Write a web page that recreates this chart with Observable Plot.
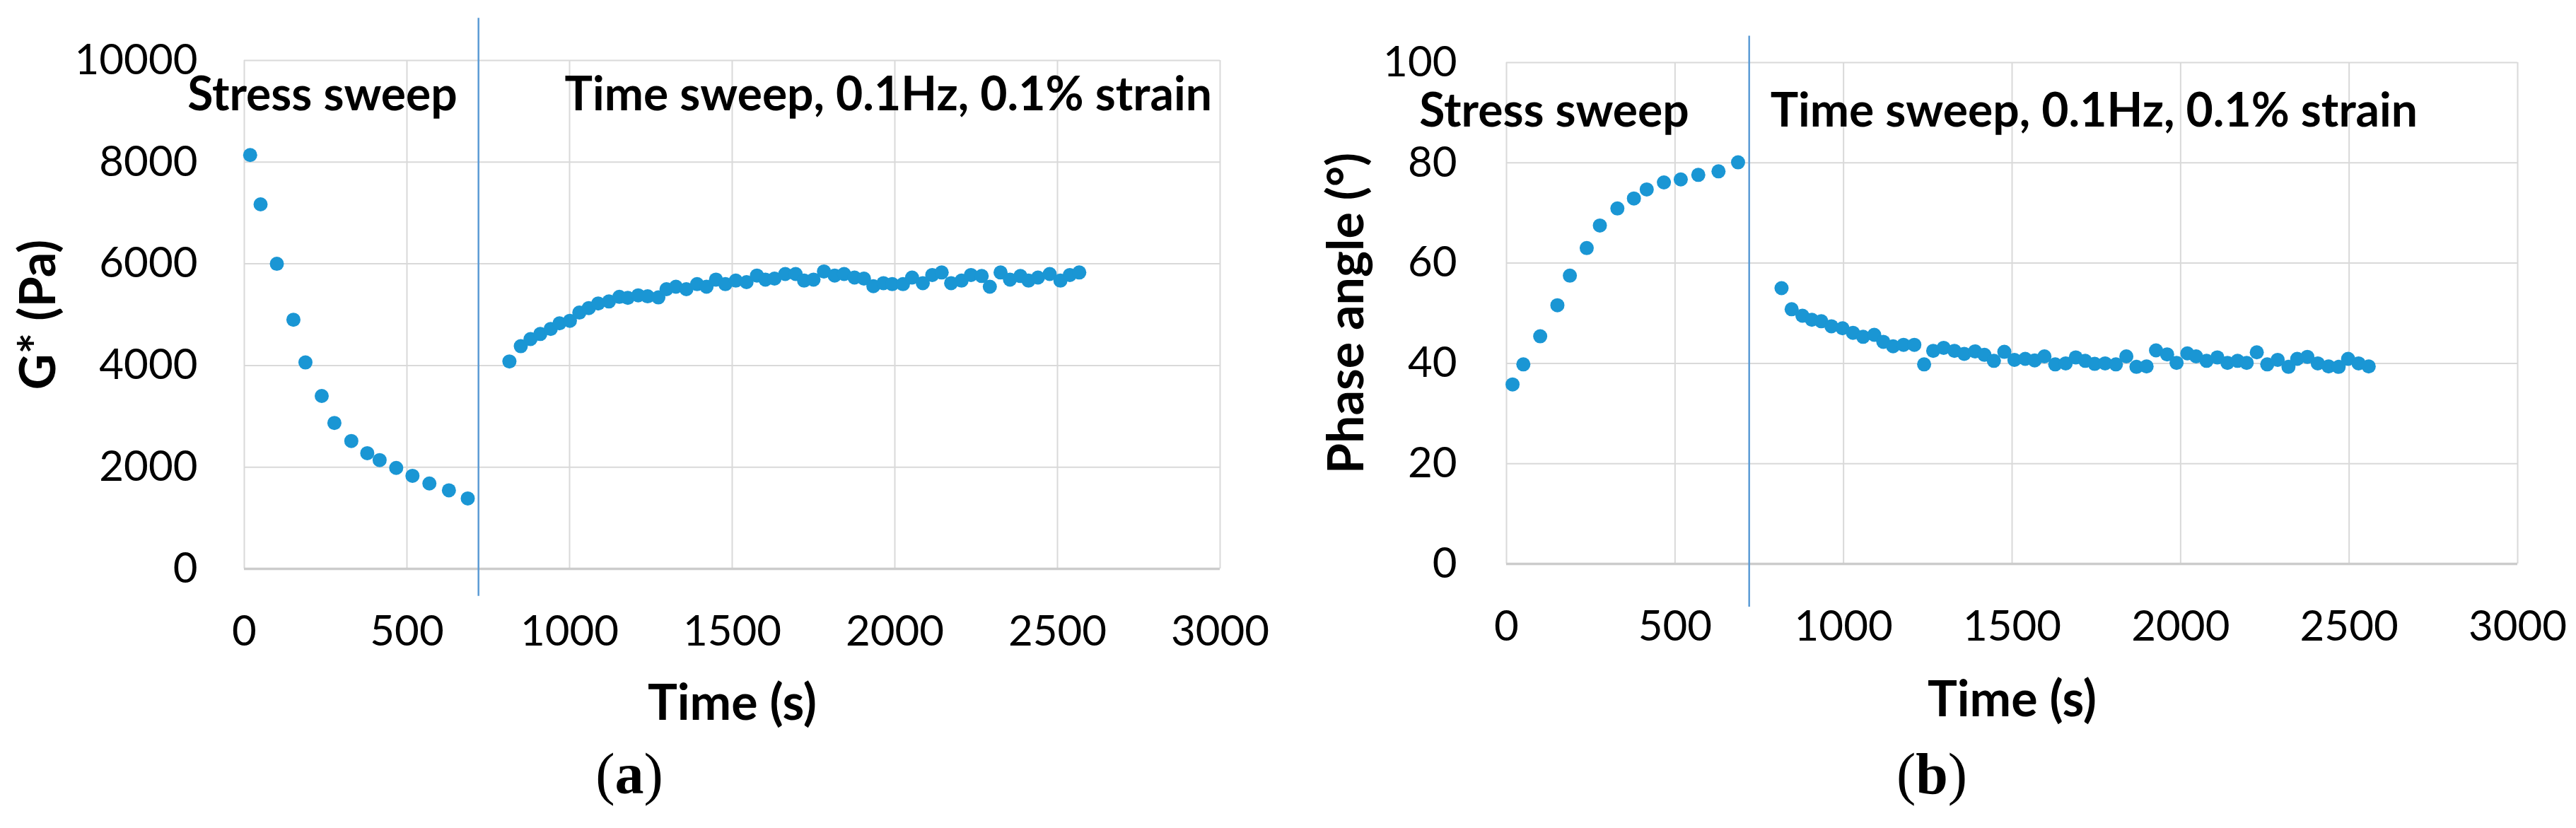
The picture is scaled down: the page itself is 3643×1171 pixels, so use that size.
<!DOCTYPE html>
<html><head><meta charset="utf-8">
<script src="https://cdn.jsdelivr.net/npm/d3@7"></script>
<script src="https://cdn.jsdelivr.net/npm/@observablehq/plot@0.6"></script>
<style>
body{margin:0;background:#fff;}
#wrap{position:relative;width:3643px;height:1171px;overflow:hidden;background:#fff;}
.panel{position:absolute;top:0;}
.cap{position:absolute;top:1054px;font-family:"Liberation Serif","DejaVu Serif",serif;font-size:82px;line-height:1;transform:translateX(-50%);white-space:nowrap;color:#000;}
</style></head><body>
<div id="wrap">
  <div id="pa" class="panel" style="left:0px"></div>
  <div id="pb" class="panel" style="left:1821px"></div>
  <div class="cap" style="left:890px">(<b>a</b>)</div>
  <div class="cap" style="left:2732px">(<b>b</b>)</div>
</div>
<script>
// ---- data ----
const xTicks = [0, 500, 1000, 1500, 2000, 2500, 3000];
const gTicks = [0, 2000, 4000, 6000, 8000, 10000];
const phaseTicks = [0, 20, 40, 60, 80, 100];
const switchTime = 720;

const stressTime = [18, 50, 100, 151, 188, 238, 277, 329, 378, 416, 467, 517, 569, 629, 687];
const stressG = [8140, 7170, 6000, 4900, 4060, 3400, 2870, 2515, 2275, 2140, 1985, 1830, 1680, 1545, 1385];
const stressPhase = [35.8, 39.8, 45.4, 51.6, 57.5, 63.0, 67.5, 70.9, 72.9, 74.7, 76.1, 76.7, 77.6, 78.3, 80.1];

const sweepTimeA = [815, 850, 880, 910, 942, 969, 1001, 1030, 1059, 1088, 1121, 1153, 1179, 1211, 1240, 1273, 1298, 1327, 1359, 1392, 1421, 1450, 1479, 1511, 1544, 1576, 1602, 1630, 1663, 1695, 1721, 1750, 1782, 1815, 1844, 1876, 1905, 1934, 1965, 1992, 2025, 2053, 2086, 2115, 2144, 2173, 2205, 2234, 2267, 2292, 2325, 2354, 2386, 2411, 2440, 2476, 2509, 2538, 2567];
const sweepG = [4080, 4380, 4520, 4620, 4720, 4830, 4880, 5040, 5130, 5220, 5260, 5350, 5330, 5380, 5360, 5340, 5500, 5550, 5500, 5600, 5550, 5690, 5600, 5670, 5640, 5770, 5690, 5710, 5800, 5800, 5670, 5690, 5850, 5770, 5800, 5730, 5710, 5560, 5620, 5600, 5600, 5730, 5620, 5780, 5830, 5620, 5670, 5780, 5760, 5550, 5830, 5690, 5760, 5670, 5730, 5800, 5670, 5780, 5830];

const sweepTimeB = [816, 846, 878, 906, 934, 964, 997, 1028, 1058, 1091, 1118, 1147, 1178, 1210, 1239, 1266, 1297, 1329, 1358, 1390, 1418, 1446, 1477, 1507, 1539, 1567, 1596, 1628, 1659, 1689, 1717, 1745, 1776, 1808, 1839, 1869, 1899, 1927, 1960, 1988, 2020, 2046, 2077, 2109, 2139, 2169, 2196, 2226, 2257, 2288, 2320, 2346, 2376, 2407, 2439, 2469, 2497, 2528, 2558];
const sweepPhase = [55.0, 50.8, 49.5, 48.7, 48.4, 47.4, 47.0, 46.1, 45.3, 45.7, 44.3, 43.4, 43.7, 43.7, 39.8, 42.5, 43.1, 42.5, 41.9, 42.4, 41.7, 40.5, 42.3, 40.7, 40.9, 40.6, 41.4, 39.8, 40.0, 41.2, 40.5, 39.9, 40.0, 39.8, 41.4, 39.3, 39.4, 42.6, 41.8, 40.1, 42.0, 41.4, 40.5, 41.2, 40.1, 40.5, 40.1, 42.2, 39.8, 40.7, 39.3, 40.9, 41.3, 40.0, 39.4, 39.3, 40.9, 40.0, 39.4];

const stressLabel = "Stress sweep";
const sweepLabel = "Time sweep, 0.1Hz, 0.1% strain";
const noteXA = [655, 985], noteYA = 9026;
const noteXB = [542, 783], noteYB = 87.3;
const xTitle = "Time (s)";
const yTitleA = "G* (Pa)";
const yTitleB = "Phase angle (°)";

// ---- styles ----
const dotColor = "#1a96d4";
const lineColor = "#5b9bd5";
const gridColor = "#d9d9d9";
const FONT = "Lato, 'Open Sans', sans-serif";

function panel({yDomain, yTicks, stressY, sweepT, sweepY, noteX, noteY, yTitle, yTitleDx, ruleTop, ruleBottom, margins}) {
  const stress = stressTime.map((t, i) => ({t, v: stressY[i]}));
  const sweep = sweepT.map((t, i) => ({t, v: sweepY[i]}));
  const noteStyle = {lineAnchor: "bottom", fontSize: 66, fontWeight: "bold", fill: "black"};
  return Plot.plot({
    width: margins.width, height: 1060,
    marginLeft: margins.left, marginRight: margins.right, marginTop: margins.top, marginBottom: margins.bottom,
    style: {fontFamily: FONT, background: "white", color: "black", overflow: "visible"},
    x: {domain: [0, 3000]},
    y: {domain: yDomain},
    marks: [
      Plot.gridX({ticks: xTicks, stroke: gridColor, strokeOpacity: 1, strokeWidth: 2}),
      Plot.gridY({ticks: yTicks, stroke: gridColor, strokeOpacity: 1, strokeWidth: 2}),
      Plot.ruleY([0], {stroke: "#cccccc", strokeWidth: 3.5}),
      Plot.axisX({ticks: xTicks, tickSize: 0, tickPadding: 66, fontSize: 60, label: null, tickFormat: d => String(d), fill: "black"}),
      Plot.axisY({ticks: yTicks, tickSize: 0, tickPadding: margins.tickPadY, fontSize: 60, label: null, tickFormat: d => String(d), fill: "black"}),
      Plot.ruleX([switchTime], {y1: ruleTop, y2: ruleBottom, stroke: lineColor, strokeWidth: 2.5}),
      Plot.dot(stress, {x: "t", y: "v", r: 10, fill: dotColor}),
      Plot.dot(sweep, {x: "t", y: "v", r: 10, fill: dotColor}),
      Plot.text([stressLabel], {x: noteX[0], y: noteY, textAnchor: "end", ...noteStyle}),
      Plot.text([sweepLabel], {x: noteX[1], y: noteY, textAnchor: "start", ...noteStyle}),
      Plot.text([yTitle], {frameAnchor: "left", textAnchor: "middle", rotate: -90, dx: yTitleDx, lineAnchor: "bottom", fontSize: 70, fontWeight: "bold", fill: "black"}),
      Plot.text([xTitle], {frameAnchor: "bottom", textAnchor: "middle", dy: margins.xTitleDy, lineAnchor: "bottom", fontSize: 70, fontWeight: "bold", fill: "black"})
    ]
  });
}

document.getElementById("pa").append(panel({
  yDomain: [0, 10000], yTicks: gTicks, stressY: stressG, sweepT: sweepTimeA, sweepY: sweepG,
  noteX: noteXA, noteY: noteYA, yTitle: yTitleA, yTitleDx: -268, ruleTop: 10830, ruleBottom: -540,
  margins: {width: 1821, left: 345, right: 96, top: 85, bottom: 256, tickPadY: 66, xTitleDy: 213}
}));
document.getElementById("pb").append(panel({
  yDomain: [0, 100], yTicks: phaseTicks, stressY: stressPhase, sweepT: sweepTimeB, sweepY: sweepPhase,
  noteX: noteXB, noteY: noteYB, yTitle: yTitleB, yTitleDx: -203, ruleTop: 105.3, ruleBottom: -8.6,
  margins: {width: 1822, left: 309, right: 83, top: 88, bottom: 263, tickPadY: 70, xTitleDy: 215}
}));
</script>
</body></html>
